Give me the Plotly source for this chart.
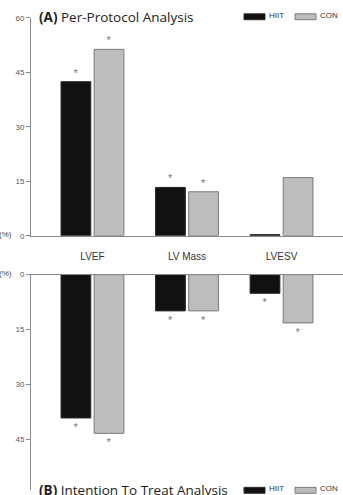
import plotly.graph_objects as go

categories = ["LVEF", "LV Mass", "LVESV"]
pp_hiit = [42.4, 13.3, 0.3]
pp_con = [51.3, 12.1, 16.0]
pp_hiit_sig = ["*", "*", ""]
pp_con_sig = ["*", "*", ""]
itt_hiit = [39.2, 9.9, 5.1]
itt_con = [43.4, 9.9, 13.2]
itt_hiit_sig = ["*", "*", "*"]
itt_con_sig = ["*", "*", "*"]
ticks_top = [0, 15, 30, 45, 60]
ticks_bot = [0, 15, 30, 45]

W, H = 343, 495
def px(x):
    return x / W
def py(y):
    return 1 - y / H

HIIT_FILL, HIIT_LINE = "#111111", "#2a2a2a"
CON_FILL, CON_LINE = "#bdbdbd", "#7a7a7a"
AX = "#8a8a8a"
STAR = dict(size=11, color="#777777", family="Arial")

fig = go.Figure()

def add_bars(vals, sig, fill, line, xa, ya, name):
    fig.add_trace(go.Bar(
        x=categories, y=vals, name=name, xaxis=xa, yaxis=ya,
        marker=dict(color=fill, line=dict(color=line, width=1)),
        text=sig, textposition="outside", textfont=STAR,
        constraintext="none", cliponaxis=False, showlegend=False,
        offsetgroup=name,
    ))

add_bars(pp_hiit, pp_hiit_sig, HIIT_FILL, HIIT_LINE, "x", "y", "HIIT")
add_bars(pp_con, pp_con_sig, CON_FILL, CON_LINE, "x", "y", "CON")
add_bars(itt_hiit, itt_hiit_sig, HIIT_FILL, HIIT_LINE, "x2", "y2", "HIIT")
add_bars(itt_con, itt_con_sig, CON_FILL, CON_LINE, "x2", "y2", "CON")

xr = [-0.65, 2.65]
xdom = [px(31), 1]
tickfont = dict(size=8, color="#555555", family="Arial")

fig.update_layout(
    width=W, height=H, margin=dict(l=0, r=0, t=0, b=0),
    paper_bgcolor="white", plot_bgcolor="white",
    barmode="group", bargap=0.3, bargroupgap=0.1,
    xaxis=dict(domain=xdom, range=xr, anchor="y", showline=True, linecolor=AX,
               linewidth=1, ticks="", showgrid=False, zeroline=False,
               tickfont=dict(size=10, color="#333333", family="Arial"),
               ticklabelstandoff=11),
    yaxis=dict(domain=[py(236), py(14)], range=[0, 60], tickvals=ticks_top,
               ticks="outside", ticklen=4, tickcolor=AX, showline=True,
               linecolor=AX, linewidth=1, showgrid=False, zeroline=False,
               tickfont=tickfont, anchor="x"),
    xaxis2=dict(domain=xdom, range=xr, anchor="y2", side="top", showline=True,
                linecolor=AX, linewidth=1, ticks="", showticklabels=False,
                showgrid=False, zeroline=False),
    yaxis2=dict(domain=[0, py(275.7)], range=[58.9, 0], tickvals=ticks_bot,
                ticks="outside", ticklen=4, tickcolor=AX, showline=True,
                linecolor=AX, linewidth=1, showgrid=False, zeroline=False,
                tickfont=tickfont, anchor="x2"),
)

ann = []
for yy in (236, 275.7):
    ann.append(dict(x=px(12.5), y=py(yy - 1), xref="paper", yref="paper", xanchor="right",
                    yanchor="middle", text="(%)", showarrow=False, borderpad=0,
                    font=dict(size=8, color="#444444", family="Arial")))

def title_block(text, ty, title_top):
    ann.append(dict(x=px(38), y=py(title_top), xref="paper", yref="paper", xanchor="left",
                    yanchor="top", text=text, showarrow=False, borderpad=0,
                    font=dict(size=13.5, color="#222222", family="Open Sans")))
    for (x0, x1, fill, line, lab, lx) in [(244, 265, HIIT_FILL, HIIT_LINE, "HIIT", 268),
                                          (295, 316, CON_FILL, CON_LINE, "CON", 319)]:
        fig.add_shape(type="rect", xref="paper", yref="paper", x0=px(x0), x1=px(x1),
                      y0=py(ty + 3), y1=py(ty - 3), fillcolor=fill,
                      line=dict(color=line, width=1))
        ann.append(dict(x=px(lx), y=py(ty - 1.5), xref="paper", yref="paper", xanchor="left",
                        yanchor="middle", text=lab, showarrow=False, borderpad=0,
                        font=dict(size=8, color="#333333", family="Arial")))

title_block("<b>(A)</b> Per-Protocol Analysis", 13, 3)
title_block("<b>(B)</b> Intention To Treat Analysis", 495.3, 485)

fig.update_layout(annotations=ann)
fig.write_html("out.html")
